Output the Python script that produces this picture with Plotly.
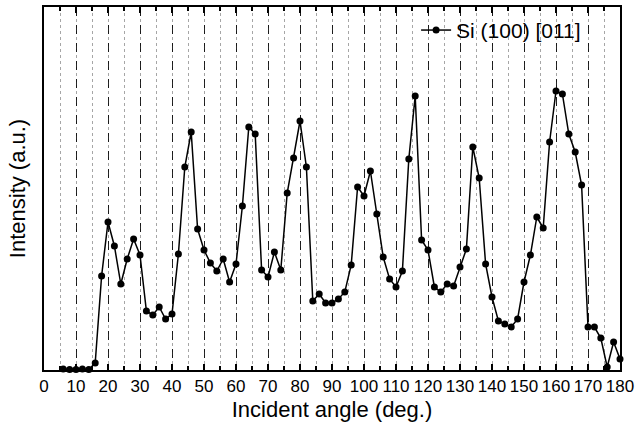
import plotly.graph_objects as go

# Incident angle (deg.)
angles = [6, 8, 10, 12, 14, 16, 18, 20, 22, 24, 26, 28, 30, 32, 34, 36, 38, 40,
          42, 44, 46, 48, 50, 52, 54, 56, 58, 60, 62, 64, 66, 68, 70, 72, 74, 76,
          78, 80, 82, 84, 86, 88, 90, 92, 94, 96, 98, 100, 102, 104, 106, 108, 110,
          112, 114, 116, 118, 120, 122, 124, 126, 128, 130, 132, 134, 136, 138, 140,
          142, 144, 146, 148, 150, 152, 154, 156, 158, 160, 162, 164, 166, 168, 170,
          172, 174, 176, 178, 180]
# Intensity (a.u.)
intensity = [1, 0.5, 0.5, 1, 0.5, 7, 94, 148, 124, 86, 111, 131, 115, 59, 55, 63, 51, 56,
             116, 203, 238, 141, 120, 107, 99, 111, 88, 106, 164, 243, 236, 100, 93, 118, 100, 177,
             212, 249, 203, 69, 76, 67, 67, 71, 78, 105, 183, 174, 199, 156, 113, 91, 83,
             99, 211, 274, 130, 120, 83, 78, 86, 84, 103, 121, 223, 192, 106, 73,
             49, 46, 43, 51, 88, 115, 153, 142, 228, 279, 276, 236, 218, 185, 43,
             43, 32, 3, 28, 11]

tick_vals = list(range(0, 181, 10))
tick_text = [str(v) for v in tick_vals]

fig = go.Figure()
fig.add_trace(go.Scatter(
    x=angles, y=intensity, mode="lines+markers",
    name="Si (100) [011]",
    line=dict(color="black", width=1.5),
    marker=dict(color="black", size=7, symbol="circle"),
    cliponaxis=False,
))

fig.update_layout(
    width=636, height=430,
    margin=dict(l=44, r=16, t=7, b=60, autoexpand=False),
    paper_bgcolor="white", plot_bgcolor="white",
    font=dict(family="Liberation Sans, Arial, sans-serif", color="black"),
    showlegend=True,
    legend=dict(x=0.646, y=0.992, xanchor="left", yanchor="top",
                bgcolor="rgba(0,0,0,0)", font=dict(size=21)),
    xaxis=dict(
        range=[0, 180], tickvals=tick_vals, ticktext=tick_text, automargin=False,
        tickfont=dict(size=17), ticks="inside", ticklen=6, tickwidth=1.5,
        tickcolor="black",
        showline=True, linecolor="black", linewidth=2, mirror="ticks",
        showgrid=True, gridcolor="rgba(0,0,0,0.85)", gridwidth=1, griddash="dash",
        minor=dict(dtick=5, tick0=0, ticks="inside", ticklen=4, tickcolor="black",
                   showgrid=True, gridcolor="rgba(0,0,0,0.35)", griddash="dot", gridwidth=1),
        zeroline=False,
        title=dict(text="Incident angle (deg.)", font=dict(size=22), standoff=6),
    ),
    yaxis=dict(
        range=[0, 363], showticklabels=False, ticks="", automargin=False,
        showline=True, linecolor="black", linewidth=2, mirror=True,
        showgrid=False, zeroline=False,
        title=dict(text="Intensity (a.u.)", font=dict(size=22), standoff=10),
    ),
)

fig.write_html("out.html", config={"displayModeBar": False},
               post_script="document.body.style.margin='0';")
